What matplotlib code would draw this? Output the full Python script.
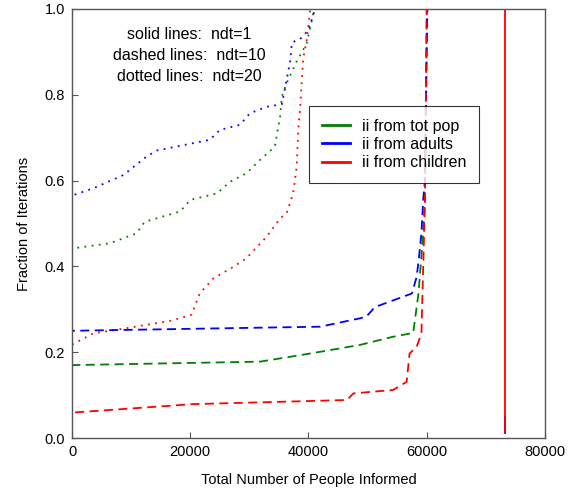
import matplotlib
matplotlib.use("Agg")
import matplotlib.pyplot as plt

plt.rcParams['font.family'] = ['Liberation Sans', 'DejaVu Sans']

# ---- data (x in people informed, y = fraction of iterations) ----
# solid lines: ndt=1
solid_tot_x = [73200, 73200]
solid_tot_y = [0.012, 0.05]
solid_adu_x = [73200, 73200]
solid_adu_y = [0.012, 0.05]
solid_chi_x = [73200, 73200]
solid_chi_y = [0.012, 1.0]

# dashed lines: ndt=10
dash_tot_x = [0, 0, 200, 31800, 40300, 48700, 54300, 57700, 58000, 58600, 59400, 59700, 60000]
dash_tot_y = [0, 0.170, 0.170, 0.178, 0.197, 0.217, 0.236, 0.245, 0.275, 0.337, 0.477, 0.555, 1.0]
dash_adu_x = [0, 0, 200, 42000, 48700, 49800, 51200, 57500, 58300, 58700, 59100, 59400, 59700, 60100]
dash_adu_y = [0, 0.250, 0.250, 0.2595, 0.279, 0.283, 0.305, 0.337, 0.376, 0.423, 0.477, 0.555, 0.601, 1.0]
dash_chi_x = [0, 0, 800, 20500, 46500, 47600, 54300, 56600, 57100, 58300, 59100, 59400, 59700, 60000]
dash_chi_y = [0, 0.060, 0.060, 0.079, 0.0886, 0.104, 0.112, 0.131, 0.197, 0.213, 0.244, 0.399, 0.555, 1.0]

# dotted lines: ndt=20
dot_tot_x = [0, 0, 200, 6400, 10900, 12300, 18300, 20000, 24500, 26700, 29500, 31800, 34300,
             35200, 35500, 36300, 38000, 39700, 40800, 41000]
dot_tot_y = [0, 0.442, 0.442, 0.454, 0.477, 0.504, 0.528, 0.555, 0.570, 0.597, 0.617, 0.648, 0.679,
             0.749, 0.796, 0.827, 0.878, 0.920, 0.988, 1.0]
dot_adu_x = [0, 0, 200, 3600, 8700, 12600, 14300, 23300, 25000, 28400, 30100, 32900, 35500,
             36900, 37200, 38600, 40000, 41100]
dot_adu_y = [0, 0.566, 0.566, 0.582, 0.613, 0.656, 0.670, 0.695, 0.718, 0.730, 0.757, 0.772, 0.778,
             0.878, 0.922, 0.930, 0.951, 1.0]
dot_chi_x = [0, 0, 200, 3600, 9200, 16600, 20200, 21600, 23900, 27300, 29500, 32900, 35200,
             36300, 37400, 38000, 38300, 38600, 39100, 39700, 40300]
dot_chi_y = [0, 0.219, 0.219, 0.244, 0.256, 0.273, 0.287, 0.337, 0.372, 0.399, 0.419, 0.469, 0.512,
             0.524, 0.570, 0.632, 0.726, 0.772, 0.884, 0.928, 1.0]

labels = ['ii from tot pop', 'ii from adults', 'ii from children']
colors = ['#007f00', '#0000ff', '#ff0000']

x_ticks = [0, 20000, 40000, 60000, 80000]
y_ticks = [0.0, 0.2, 0.4, 0.6, 0.8, 1.0]

fig = plt.figure(figsize=(5.84, 4.99), dpi=100)
ax = fig.add_axes([0.1233, 0.1222, 0.8099, 0.8598])

lw = 1.3
# dotted
for xs, ys, c in [(dot_tot_x, dot_tot_y, colors[0]), (dot_adu_x, dot_adu_y, colors[1]),
                  (dot_chi_x, dot_chi_y, colors[2])]:
    ax.plot(xs, ys, color=c, lw=lw, linestyle=(0, (1, 3)))
# dashed
for xs, ys, c in [(dash_tot_x, dash_tot_y, colors[0]), (dash_adu_x, dash_adu_y, colors[1]),
                  (dash_chi_x, dash_chi_y, colors[2])]:
    ax.plot(xs, ys, color=c, lw=lw, linestyle=(0, (5, 3)))
# solid (legend handles)
handles = []
for xs, ys, c, lab in [(solid_tot_x, solid_tot_y, colors[0], labels[0]),
                       (solid_adu_x, solid_adu_y, colors[1], labels[1]),
                       (solid_chi_x, solid_chi_y, colors[2], labels[2])]:
    h, = ax.plot(xs, ys, color=c, lw=lw, linestyle='-', label=lab)
    handles.append(h)

ax.set_xlim(0, 80000)
ax.set_ylim(0, 1.0)
ax.set_xticks(x_ticks)
ax.set_xticklabels([str(v) for v in x_ticks])
ax.set_yticks(y_ticks)
ax.set_yticklabels(['%.1f' % v for v in y_ticks])
ax.tick_params(direction='in', length=4, labelsize=10.5, color='#555555', pad=5)
for s in ax.spines.values():
    s.set_color('#555555')
    s.set_linewidth(1.0)

ax.set_xlabel('Total Number of People Informed', fontsize=10.5, labelpad=10)
ax.set_ylabel('Fraction of Iterations', fontsize=10.5, labelpad=10)

fs_note = 11.5
ax.text(0.248, 0.940, 'solid lines:  ndt=1', transform=ax.transAxes, ha='center', va='center', fontsize=fs_note)
ax.text(0.248, 0.891, 'dashed lines:  ndt=10', transform=ax.transAxes, ha='center', va='center', fontsize=fs_note)
ax.text(0.248, 0.842, 'dotted lines:  ndt=20', transform=ax.transAxes, ha='center', va='center', fontsize=fs_note)

leg = ax.legend(handles=[handles[0], handles[1], handles[2]], loc='upper left',
                bbox_to_anchor=(0.501, 0.774), borderaxespad=0.0, fontsize=11.5, frameon=True,
                fancybox=False, edgecolor='black', handlelength=1.75, borderpad=0.8,
                labelspacing=0.2, handletextpad=0.75)
leg.get_frame().set_linewidth(0.8)
for l in leg.get_lines():
    l.set_linewidth(2)

fig.savefig('out.png', dpi=100)
